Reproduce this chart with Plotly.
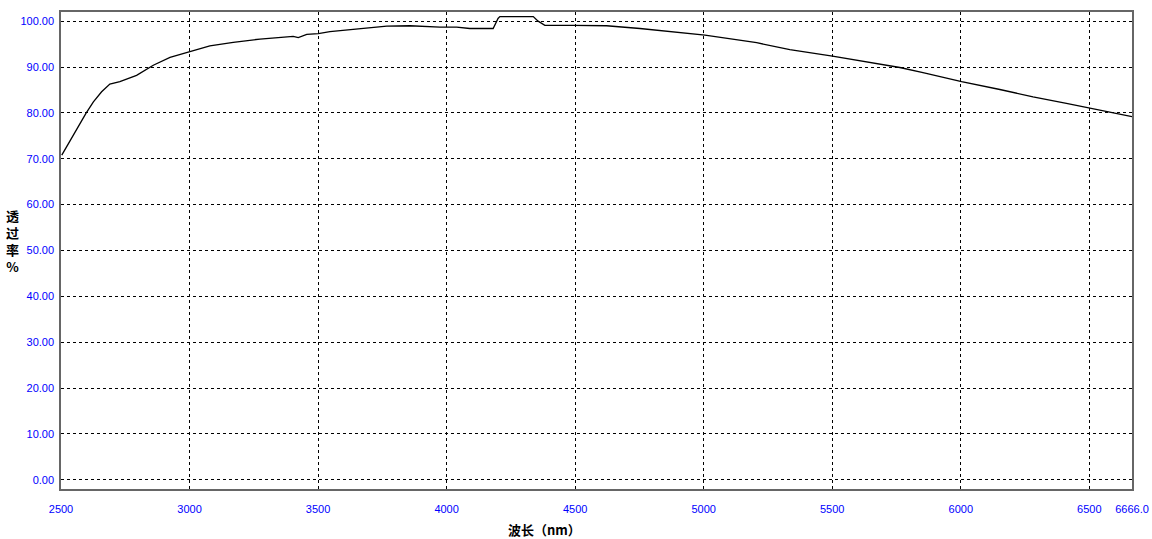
import plotly.graph_objects as go

# Wavelength (nm) and transmittance (%)
wavelength = [2503, 2548, 2597, 2626, 2658, 2690, 2729, 2794, 2859, 2924, 2999,
              3079, 3170, 3274, 3403, 3423, 3456, 3501, 3546, 3675, 3767, 3857,
              3974, 4039, 4090, 4181, 4200, 4207, 4337, 4356, 4382, 4492, 4622,
              4752, 4880, 4970, 5005, 5206, 5335, 5501, 5633, 5763, 5853, 5892,
              5957, 6003, 6152, 6281, 6411, 6501, 6592, 6666]
transmittance = [70.8, 75.2, 79.9, 82.4, 84.6, 86.3, 86.8, 88.2, 90.4, 92.1, 93.3,
                 94.6, 95.4, 96.1, 96.7, 96.4, 97.1, 97.3, 97.7, 98.4, 98.9, 99.0,
                 98.7, 98.7, 98.4, 98.4, 100.6, 101.0, 101.0, 100.0, 99.1, 99.1, 99.0,
                 98.4, 97.7, 97.1, 96.95, 95.3, 93.8, 92.4, 91.1, 89.9, 88.8, 88.3,
                 87.4, 86.8, 85.1, 83.5, 82.1, 81.1, 80.0, 79.2]

x_ticks = [2500, 3000, 3500, 4000, 4500, 5000, 5500, 6000, 6500, 6666]
x_tick_text = ["2500", "3000", "3500", "4000", "4500", "5000", "5500", "6000", "6500", "6666.0"]
y_ticks = [0, 10, 20, 30, 40, 50, 60, 70, 80, 90, 100]
y_tick_text = ["%.2f" % v for v in y_ticks]

fig = go.Figure()
fig.add_trace(go.Scatter(x=wavelength, y=transmittance, mode="lines",
                         line=dict(color="black", width=1.3), showlegend=False))

tickfont = dict(family="Liberation Sans, DejaVu Sans, sans-serif", size=11, color="#0000FF")
fig.update_layout(
    width=1152, height=539,
    margin=dict(l=61, r=20, t=12, b=50),
    paper_bgcolor="white", plot_bgcolor="white",
    xaxis=dict(range=[2500, 6666], tickvals=x_ticks, ticktext=x_tick_text,
               showgrid=True, gridcolor="black", gridwidth=1, griddash="3px,3px",
               showline=True, linecolor="#666666", linewidth=1.5, mirror=True,
               zeroline=False, tickfont=tickfont, ticks="", ticklabelstandoff=9,
               automargin=False),
    yaxis=dict(range=[-2, 102], tickvals=y_ticks, ticktext=y_tick_text,
               showgrid=True, gridcolor="black", gridwidth=1, griddash="3px,3px",
               showline=True, linecolor="#666666", linewidth=1.5, mirror=True,
               zeroline=False, tickfont=tickfont, ticks="", ticklabelstandoff=3,
               automargin=False),
)

cjk = "Noto Sans CJK SC, sans-serif"
fig.add_annotation(text="<b>透<br>过<br>率<br>%</b>", xref="paper", x=0, xshift=-49,
                   yref="y", y=52, showarrow=False, xanchor="center", yanchor="middle",
                   font=dict(family=cjk, size=13, color="black"))
fig.add_annotation(text="<b>波长（nm）</b>", xref="x", x=4380, yref="paper", y=0,
                   yshift=-40, showarrow=False, xanchor="center", yanchor="middle",
                   font=dict(family=cjk, size=13, color="black"))

fig.write_html("out.html", config={"displayModeBar": False},
               post_script="document.body.style.margin='0';document.body.style.overflow='hidden';")
